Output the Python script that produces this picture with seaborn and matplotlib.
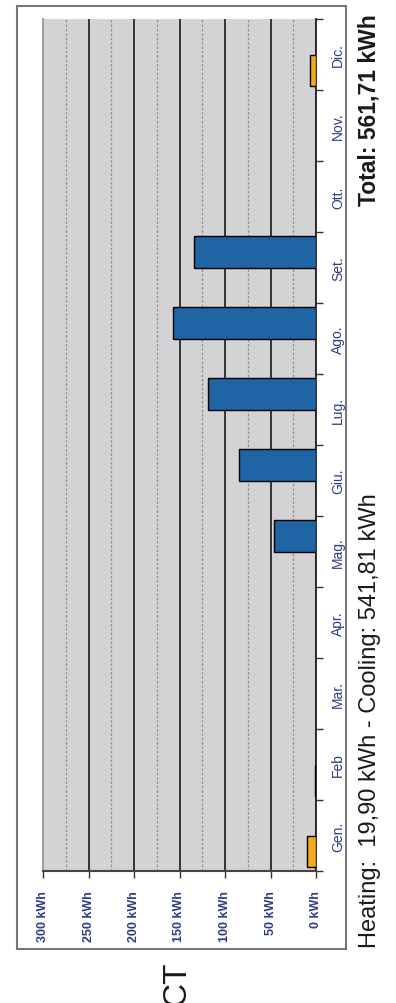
import numpy as np
import pandas as pd
import matplotlib.pyplot as plt
import seaborn as sns
from matplotlib.patches import Rectangle
from matplotlib.ticker import FixedLocator, NullFormatter

# Data
months = ["Gen.", "Feb", "Mar.", "Apr.", "Mag.", "Giu.", "Lug.", "Ago.", "Set.", "Ott.", "Nov.", "Dic."]
heating = [10.0, 1.0, 0, 0, 0, 0, 0, 0, 0, 0, 0, 7.0]
cooling = [0, 0, 0, 0, 46.0, 85.0, 119.0, 157.5, 134.3, 0, 0, 0]
value_ticks = [0, 50, 100, 150, 200, 250, 300]
total_text = "Total: 561,71 kWh"
summary_text = "Heating:  19,90 kWh - Cooling: 541,81 kWh"

plt.rcParams['font.family'] = ['Liberation Sans', 'DejaVu Sans']

# long table, zero months dropped so no empty outlines are drawn
df = pd.concat([
    pd.DataFrame({"month": months, "kwh": heating, "kind": "Heating"}),
    pd.DataFrame({"month": months, "kwh": cooling, "kind": "Cooling"}),
])
df = df[df["kwh"] > 0]

W, H = 396, 1004
fig = plt.figure(figsize=(W / 100, H / 100), dpi=100)
ax = fig.add_axes([43 / W, 1 - 872 / H, (316 - 43) / W, (872 - 20) / H])
ax.set_facecolor("#d3d3d5")

order = months[::-1]  # Gen. at the bottom
sns.barplot(data=df, y="month", x="kwh", hue="kind", order=order,
            hue_order=["Cooling", "Heating"], orient="h", dodge=True,
            width=0.88, saturation=1,
            palette={"Cooling": "#1f64a5", "Heating": "#f5aa1e"},
            edgecolor="black", linewidth=1.0, legend=False, ax=ax, zorder=3)

ax.set_xlim(300, 0)
ax.set_ylim(11.5, -0.5)
ax.set_xlabel("")
ax.set_ylabel("")

# value axis (bottom in picture)
ax.set_xticks(value_ticks)
ax.set_xticklabels([f"{v} kWh" for v in value_ticks], rotation=90,
                   fontsize=9, fontweight="bold", color="#2e3d80")
ax.xaxis.set_minor_locator(FixedLocator([v + 25 for v in value_ticks[:-1]]))
ax.tick_params(axis="x", which="major", length=5, width=1, color="#333", pad=9)
ax.tick_params(axis="x", which="minor", length=0)
ax.xaxis.grid(True, which="major", color="#1a1a1a", lw=1.2, zorder=1)
ax.xaxis.grid(True, which="minor", color="#8f8f8f", lw=0.9, ls=(0, (2, 1.5)), zorder=1)
ax.set_axisbelow(True)

# month axis (right in picture): ticks between months, labels in the middle
ax.yaxis.tick_right()
ax.yaxis.set_major_locator(FixedLocator(np.arange(-0.5, 12, 1.0)))
ax.yaxis.set_major_formatter(NullFormatter())
ax.yaxis.set_minor_locator(FixedLocator(np.arange(12)))
ax.set_yticklabels(order, minor=True, rotation=90, fontsize=10,
                   color="#2e3d80", va="center", ha="left")
ax.tick_params(axis="y", which="major", length=5, width=1, color="#333")
ax.tick_params(axis="y", which="minor", length=0, pad=11)

ax.spines["top"].set_visible(False)
ax.spines["left"].set_color("#a0a0a0")
ax.spines["left"].set_linewidth(1.5)
ax.spines["bottom"].set_color("#444")
ax.spines["bottom"].set_linewidth(1.5)
ax.spines["right"].set_color("#222")
ax.spines["right"].set_linewidth(1.3)

# outer frame
fig.patches.append(Rectangle((17 / W, 1 - 950 / H), (346 - 17) / W, (950 - 7) / H,
                             transform=fig.transFigure, fill=False,
                             edgecolor="#777777", lw=1.5))

fig.text(369 / W, 1 - 14 / H, total_text, rotation=90, ha="center", va="top",
         fontsize=16.5, fontweight="bold", color="#1a1a1a")
fig.text(370 / W, 1 - 948 / H, summary_text, rotation=90, ha="center", va="bottom",
         fontsize=17, color="#1a1a1a")
fig.text(177 / W, 1 - 962 / H, "CT", rotation=90, ha="center", va="top",
         fontsize=24, color="#1a1a1a")

fig.savefig("out.png", dpi=100)
